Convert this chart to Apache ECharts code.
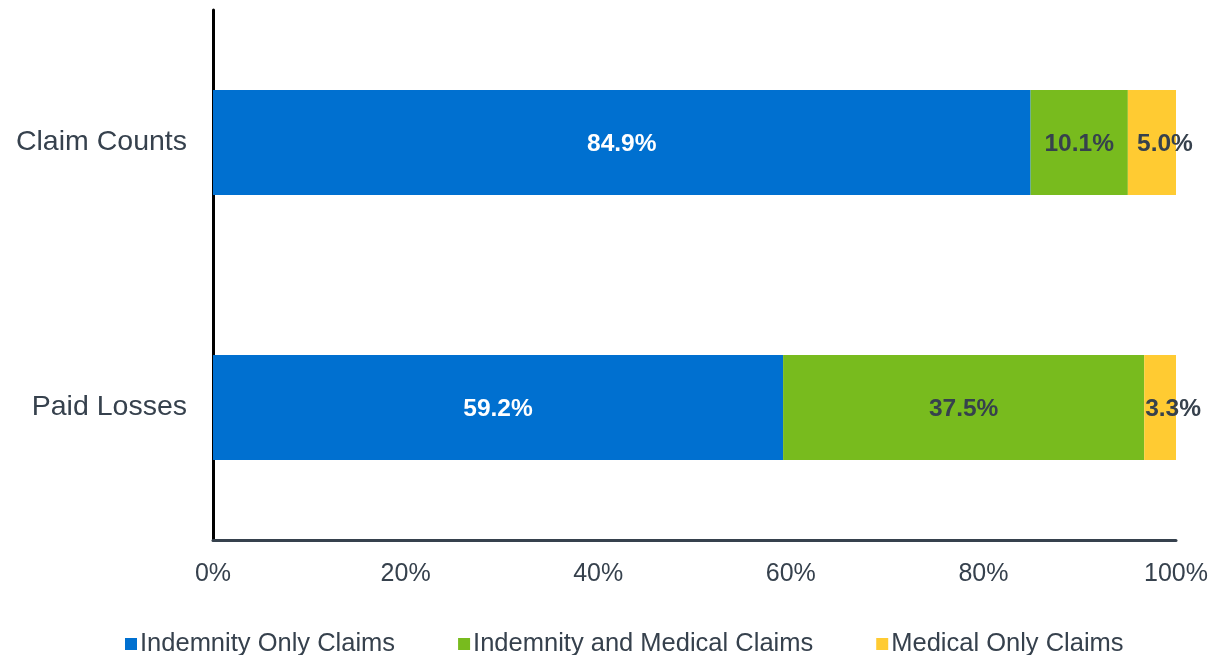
<!DOCTYPE html>
<html>
<head>
<meta charset="utf-8">
<script src="https://cdn.jsdelivr.net/npm/echarts@6/dist/echarts.min.js"></script>
<style>
  html, body { margin: 0; padding: 0; background: #fff; }
  #chart { width: 1212px; height: 655px; }
</style>
</head>
<body>
<div id="chart"></div>
<script>
// categories, top to bottom
var categories = ['Claim Counts', 'Paid Losses'];
var seriesNames = ['Indemnity Only Claims', 'Indemnity and Medical Claims', 'Medical Only Claims'];
var indemnityOnly = [84.9, 59.2];
var indemnityMedical = [10.1, 37.5];
var medicalOnly = [5.0, 3.3];
var xTicks = [0, 20, 40, 60, 80, 100];

var colors = ['#0070d0', '#78bb1e', '#ffcb32'];
var textColor = '#36414d';
var font = 'Liberation Sans, Arial, sans-serif';

var chart = echarts.init(document.getElementById('chart'));

function mkSeries(name, data, color, labelColor, offset) {
  return {
    name: name,
    type: 'bar',
    stack: 'total',
    data: data,
    barWidth: 105,
    itemStyle: { color: color },
    label: {
      show: true,
      position: 'inside',
      offset: offset || [0, 2],
      formatter: function (p) { return p.value.toFixed(1) + '%'; },
      color: labelColor,
      fontFamily: font,
      fontWeight: 'bold',
      fontSize: 24.5
    }
  };
}

var option = {
  animation: false,
  color: colors,
  grid: {
    left: 213,
    right: 36,
    top: 10,
    bottom: 115
  },
  legend: {
    left: 120,
    top: 626,
    icon: 'rect',
    itemWidth: 12,
    itemHeight: 12,
    itemGap: 63,
    textStyle: {
      color: textColor,
      fontFamily: font,
      fontSize: 25.5,
      padding: [0, 0, 0, -2]
    },
    data: seriesNames
  },
  xAxis: {
    type: 'value',
    min: xTicks[0],
    max: xTicks[xTicks.length - 1],
    interval: 20,
    axisLine: { show: true, lineStyle: { color: textColor, width: 3 } },
    axisTick: { show: false },
    splitLine: { show: false },
    axisLabel: {
      formatter: '{value}%',
      color: textColor,
      fontFamily: font,
      fontSize: 25,
      margin: 22
    }
  },
  yAxis: {
    type: 'category',
    inverse: true,
    data: categories,
    axisLine: { show: true, lineStyle: { color: '#000', width: 3 } },
    axisTick: { show: false },
    axisLabel: {
      color: textColor,
      fontFamily: font,
      fontSize: 28.5,
      margin: 26,
      padding: [3, 0, 0, 0]
    }
  },
  series: [
    mkSeries(seriesNames[0], indemnityOnly, colors[0], '#fff'),
    mkSeries(seriesNames[1], indemnityMedical, colors[1], textColor),
    mkSeries(seriesNames[2], medicalOnly, colors[2], textColor, [13, 2])
  ]
};

chart.setOption(option);
</script>
</body>
</html>
